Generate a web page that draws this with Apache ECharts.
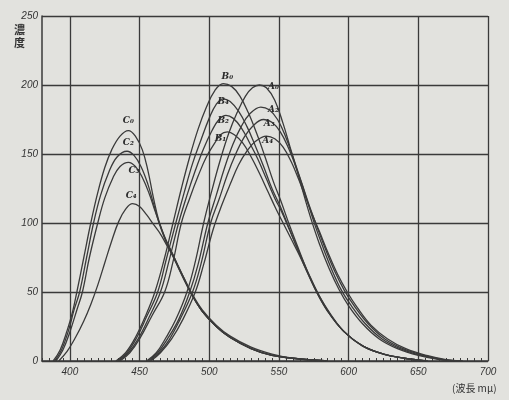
<!DOCTYPE html>
<html>
<head>
<meta charset="utf-8">
<script src="https://cdn.jsdelivr.net/npm/echarts@6/dist/echarts.min.js"></script>
<style>
  html, body { margin: 0; padding: 0; background: #e2e2de; }
  #main { width: 509px; height: 400px; }
</style>
</head>
<body>
<div id="main"></div>
<script>
// wavelength ticks and value ticks
var xTicks = [400, 450, 500, 550, 600, 650, 700];
var yTicks = [0, 50, 100, 150, 200, 250];

// C group (peak near 442)
var C0 = [[388,0],[393,8],[398,22],[402,36],[405,50],[410,75],[415,100],[420,122],[425,140],[430,153],[436,163],[442,167],[447,163],[452,153],[456,138],[460,118],[464,101],[468,90],[473,79],[480,64],[487,50],[495,37],[505,26],[515,18],[530,10],[545,5],[560,2],[585,0]];
var C2 = [[389,0],[394,8],[399,22],[403,37],[407,50],[412,75],[417,100],[422,120],[428,137],[434,148],[441,152],[446,149],[451,141],[456,128],[460,114],[464,100],[468,89],[473,78],[480,63],[487,49],[495,36],[505,25],[515,17],[530,9],[545,4],[560,2],[585,0]];
var C3 = [[390,0],[395,8],[400,21],[405,37],[409,50],[414,75],[420,100],[425,118],[431,133],[436,141],[442,144],[447,141],[452,133],[457,121],[461,109],[465,98],[469,87],[474,77],[480,63],[487,49],[495,36],[505,25],[515,17],[530,9],[545,4],[560,2],[585,0]];
var C4 = [[392,0],[398,7],[404,17],[410,29],[415,41],[420,55],[425,71],[430,87],[435,101],[440,110],[445,114],[450,112],[455,106],[460,99],[465,92],[470,83],[475,74],[481,62],[487,49],[495,36],[505,25],[515,17],[530,9],[545,4],[560,2],[585,0]];

// B group (peak near 510)
var B0 = [[433,0],[440,6],[447,17],[454,32],[461,50],[468,75],[474,100],[480,125],[486,148],[492,168],[498,184],[504,196],[510,201],[516,199],[522,192],[528,180],[534,165],[540,148],[546,130],[551,117],[557,100],[563,84],[570,66],[577,50],[585,36],[596,22],[610,11],[625,5],[640,2],[655,0]];
var B4 = [[434,0],[441,6],[448,17],[455,32],[463,50],[469,73],[476,100],[482,122],[488,143],[494,160],[500,176],[505,186],[510,190],[515,188],[521,181],[527,170],[533,156],[539,141],[545,125],[551,112],[557,97],[563,82],[570,65],[577,50],[585,36],[596,22],[610,11],[625,5],[640,2],[655,0]];
var B2 = [[435,0],[442,6],[449,16],[457,32],[465,50],[471,72],[478,100],[484,120],[490,138],[496,154],[502,167],[507,175],[512,178],[517,176],[523,169],[529,158],[535,146],[541,132],[547,118],[552,108],[558,94],[564,80],[571,64],[578,49],[586,35],[596,22],[610,11],[625,5],[640,2],[655,0]];
var B1 = [[436,0],[443,6],[450,16],[459,33],[468,50],[474,72],[480,100],[486,118],[492,134],[498,148],[504,158],[508,164],[513,166],[518,164],[524,158],[530,148],[536,136],[542,123],[548,110],[553,100],[559,88],[565,76],[572,61],[579,47],[587,34],[597,21],[610,11],[625,5],[640,2],[657,0]];

// A group (peak near 537)
var A0 = [[455,0],[462,6],[469,17],[476,30],[484,50],[490,72],[496,100],[502,124],[508,146],[514,165],[520,180],[526,192],[531,198],[536,200],[541,198],[547,189],[553,172],[558,155],[563,138],[568,120],[573,103],[579,85],[586,67],[593,52],[600,40],[610,27],[622,16],[635,9],[650,4],[665,1],[678,0]];
var A2 = [[456,0],[463,6],[470,16],[478,30],[486,50],[492,70],[499,100],[505,120],[511,140],[517,157],[523,170],[529,179],[537,184],[543,182],[549,175],[555,162],[560,148],[565,133],[570,117],[575,101],[581,84],[588,66],[595,51],[602,40],[612,27],[624,16],[637,9],[652,4],[667,1],[680,0]];
var A3 = [[457,0],[464,6],[471,15],[479,30],[488,50],[494,70],[501,100],[507,117],[513,135],[519,150],[525,162],[531,170],[539,175],[545,173],[551,166],[557,154],[562,141],[567,127],[572,112],[577,98],[583,82],[590,65],[597,51],[604,40],[614,27],[626,16],[639,9],[654,4],[668,1],[681,0]];
var A4 = [[458,0],[465,6],[473,16],[481,30],[490,50],[496,70],[503,96],[509,113],[515,128],[521,142],[527,152],[533,159],[541,163],[547,161],[553,155],[559,144],[564,132],[569,119],[574,106],[579,94],[585,79],[592,63],[599,50],[606,39],[616,26],[628,16],[641,9],[656,4],[670,1],[682,0]];

// curve names and where their tags sit
var names  = ['C₀','C₂','C₃','C₄','B₀','B₄','B₂','B₁','A₀','A₂','A₃','A₄'];
var curves = [C0, C2, C3, C4, B0, B4, B2, B1, A0, A2, A3, A4];
var tagAt  = [[442,174],[442,158],[446,138],[444,120],[513,206],[510,188],[510,174],[508,161],[546,199],[546,182],[543,172],[542,160]];

var minorTicks = [];
for (var v = 380; v <= 700; v += 5) minorTicks.push(v);

var ink = '#3a3a3a';
var chart = echarts.init(document.getElementById('main'));

var series = curves.map(function(d, i){
  return {
    name: names[i],
    type: 'line',
    data: d,
    smooth: 0.4,
    symbol: 'none',
    xAxisIndex: 0,
    lineStyle: { color: ink, width: 1.3 },
    markPoint: {
      symbol: 'circle',
      symbolSize: 0,
      label: {
        show: true,
        formatter: names[i],
        color: '#2a2a2a',
        fontFamily: 'DejaVu Serif',
        fontStyle: 'italic',
        fontWeight: 'bold',
        fontSize: 9
      },
      data: [{ coord: tagAt[i] }]
    }
  };
});

var options = {
  backgroundColor: '#e2e2de',
  animation: false,
  title: {
    text: '濃\n度',
    left: 14,
    top: 23,
    padding: 0,
    textStyle: { color: '#333', fontFamily: 'Noto Sans CJK JP', fontWeight: 'bold', fontSize: 11, lineHeight: 13 }
  },
  grid: { left: 42, right: 21, top: 16, bottom: 39 },
  xAxis: [
    {
      type: 'value',
      min: 380,
      max: 700,
      axisLine: { show: true, lineStyle: { color: ink, width: 1.5 } },
      axisTick: { show: false, customValues: xTicks },
      axisLabel: {
        customValues: xTicks,
        color: '#333',
        fontFamily: 'Liberation Sans',
        fontStyle: 'italic',
        fontSize: 10,
        margin: 6
      },
      splitLine: { show: true, lineStyle: { color: ink, width: 1.3 } }
    },
    {
      type: 'value',
      min: 380,
      max: 700,
      position: 'bottom',
      axisLine: { show: false },
      axisTick: { show: true, inside: true, length: 3, customValues: minorTicks, lineStyle: { color: ink } },
      axisLabel: { show: false },
      splitLine: { show: false }
    }
  ],
  yAxis: {
    type: 'value',
    min: 0,
    max: 250,
    interval: 50,
    axisLine: { show: true, lineStyle: { color: ink, width: 1.5 } },
    axisTick: { show: false },
    axisLabel: {
      color: '#333',
      fontFamily: 'Liberation Sans',
      fontStyle: 'italic',
      fontSize: 10,
      margin: 4
    },
    splitLine: { show: true, lineStyle: { color: ink, width: 1.3 } }
  },
  graphic: [
    { type: 'text', left: 452, top: 383, style: { text: '(波長 mμ)', fill: '#333', font: '10px "Noto Sans CJK JP"' } }
  ],
  series: series
};
chart.setOption(options);
</script>
</body>
</html>
